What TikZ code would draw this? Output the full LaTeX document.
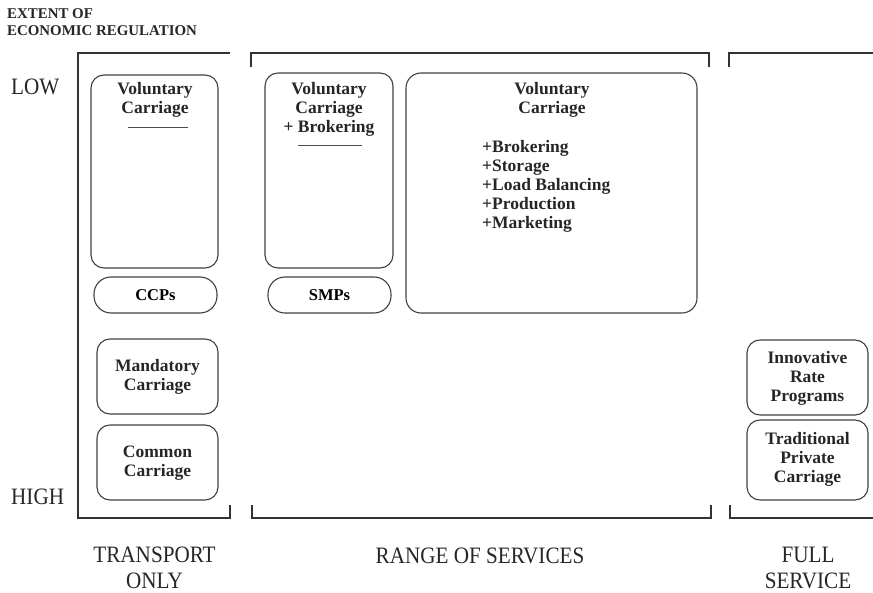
\documentclass[tikz,border=0pt]{standalone}
\usepackage{fontspec}
\setmainfont{Liberation Serif}
\newfontfamily\captionfont[FakeStretch=0.9]{Liberation Serif}
\begin{document}
\begin{tikzpicture}[x=1pt,y=-1pt,
  bracket/.style={line width=1.8pt, draw=black!80},
  box/.style={draw=black!75, line width=1.1pt, rounded corners=13pt, inner sep=0pt},
  pill/.style={box, rounded corners=17pt},
  boxtext/.style={font=\fontsize{17.5}{19}\selectfont\bfseries, align=center, text=black!85, inner sep=0pt},
  listtext/.style={boxtext, align=left},
  axislabel/.style={font=\captionfont\fontsize{23.5}{26}\selectfont, align=center, text=black!85, inner sep=0pt},
  rulemark/.style={draw=black!70, line width=0.8pt},
]
\useasboundingbox (0,0) rectangle (873,593);

% axis title and scale ends
\node[anchor=north west, align=left, inner sep=0pt, text=black!85,
      font=\fontsize{14.9}{17}\selectfont\bfseries] (title) at (7,8)
  {EXTENT OF\\ECONOMIC REGULATION};
\node[axislabel, anchor=west] (low) at (11,87) {LOW};
\node[axislabel, anchor=west] (high) at (11,497) {HIGH};

% brackets grouping the columns
\draw[bracket] (230,53) -- (78,53) -- (78,518) -- (230,518) -- (230,505);
\draw[bracket] (251,67) -- (251,53) -- (709,53) -- (709,67);
\draw[bracket] (252,505) -- (252,518) -- (711,518) -- (711,505);
\draw[bracket] (729,67) -- (729,53) -- (873,53);
\draw[bracket] (730,505) -- (730,518) -- (873,518);

% transport only column
\node[box, minimum width=127pt, minimum height=193pt] (vcbox) at (154.5,171.5) {};
\node[boxtext] (vctext) at (155,100) {Voluntary\\Carriage};
\draw[rulemark] (128,127) -- (188,127);
\node[pill, minimum width=123pt, minimum height=36pt] (ccp) at (155.5,295)
  {\fontsize{16.5}{18}\selectfont\bfseries CCPs};
\node[box, minimum width=121pt, minimum height=75pt] (mand) at (157.5,376.5) {};
\node[boxtext] (mandtext) at (157.5,377) {Mandatory\\Carriage};
\node[box, minimum width=121pt, minimum height=75pt] (common) at (157.5,462.5) {};
\node[boxtext] (commontext) at (157.5,463) {Common\\Carriage};

% range of services column
\node[box, minimum width=128pt, minimum height=195pt] (vcbbox) at (329,170.5) {};
\node[boxtext] (vcbtext) at (329,109.5) {Voluntary\\Carriage\\+ Brokering};
\draw[rulemark] (298,145) -- (362,145);
\node[pill, minimum width=123pt, minimum height=36pt] (smp) at (329.5,295)
  {\fontsize{16.5}{18}\selectfont\bfseries SMPs};
\node[box, minimum width=291pt, minimum height=240pt, rounded corners=15pt] (bigbox) at (551.5,193) {};
\node[boxtext] (bigtitle) at (552,100) {Voluntary\\Carriage};
\node[listtext, anchor=west] (biglist) at (482,186.5)
  {+Brokering\\+Storage\\+Load Balancing\\+Production\\+Marketing};

% full service column
\node[box, minimum width=121pt, minimum height=75pt] (innov) at (807.5,377.5) {};
\node[boxtext] (innovtext) at (807.5,378) {Innovative\\Rate\\Programs};
\node[box, minimum width=121pt, minimum height=80pt] (trad) at (807.5,460) {};
\node[boxtext] (tradtext) at (807.5,459) {Traditional\\Private\\Carriage};

% column captions
\node[axislabel] (transport) at (154.5,568) {TRANSPORT\\ONLY};
\node[axislabel] (range) at (480,556) {RANGE OF SERVICES};
\node[axislabel] (full) at (808,568) {FULL\\SERVICE};
\end{tikzpicture}
\end{document}
